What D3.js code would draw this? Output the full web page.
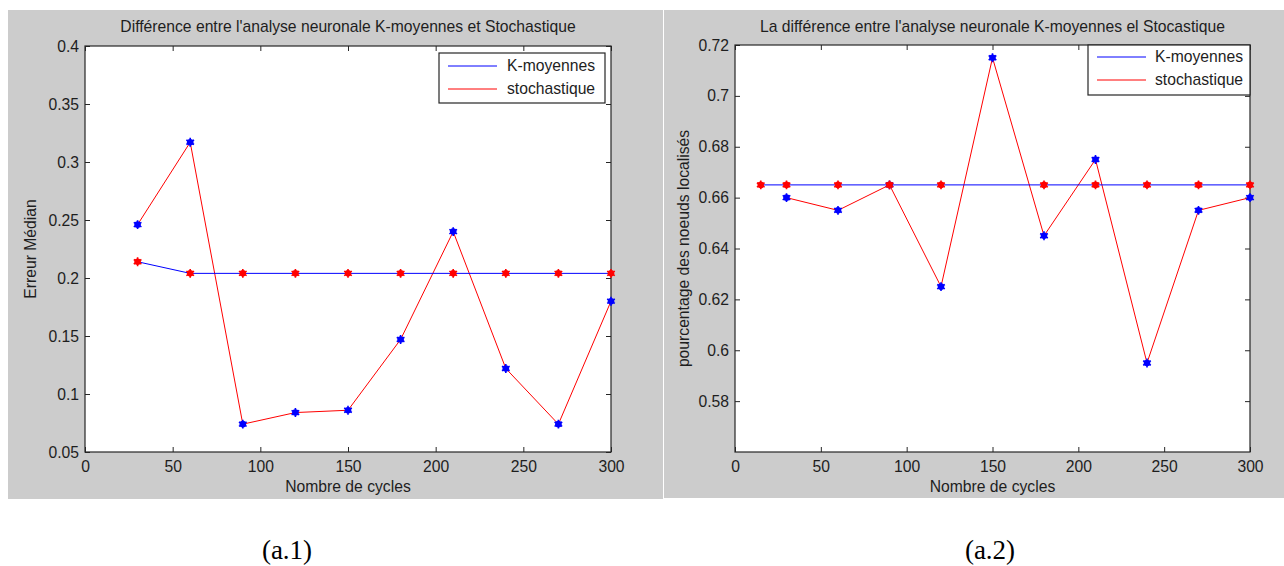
<!DOCTYPE html>
<html>
<head>
<meta charset="utf-8">
<script src="https://cdn.jsdelivr.net/npm/d3@7"></script>
<style>
  html, body { margin: 0; padding: 0; background: #ffffff; }
  svg { display: block; }
  text { font-family: "Liberation Sans", Arial, sans-serif; fill: #1e1e1e; }
</style>
</head>
<body>
<svg id="fig" width="1284" height="566"></svg>
<script>
// Nombre de cycles (x values)
const cyclesA = [30, 60, 90, 120, 150, 180, 210, 240, 270, 300];
const kmoyA   = [0.214, 0.204, 0.204, 0.204, 0.204, 0.204, 0.204, 0.204, 0.204, 0.204];
const stochA  = [0.246, 0.317, 0.074, 0.084, 0.086, 0.147, 0.240, 0.122, 0.074, 0.180];

const cyclesKB = [15, 30, 60, 90, 120, 180, 210, 240, 270, 300];
const kmoyB    = [0.665, 0.665, 0.665, 0.665, 0.665, 0.665, 0.665, 0.665, 0.665, 0.665];
const cyclesSB = [30, 60, 90, 120, 150, 180, 210, 240, 270, 300];
const stochB   = [0.660, 0.655, 0.665, 0.625, 0.715, 0.645, 0.675, 0.595, 0.655, 0.660];

const xTicks  = [0, 50, 100, 150, 200, 250, 300];
const yTicksA = [0.05, 0.1, 0.15, 0.2, 0.25, 0.3, 0.35, 0.4];
const yTicksB = [0.58, 0.6, 0.62, 0.64, 0.66, 0.68, 0.7, 0.72];

const seriesNames = ["K-moyennes", "stochastique"];
const captions = ["(a.1)", "(a.2)"];

const svg = d3.select("#fig");
const BLUE = "#0000ff", RED = "#ff0000";
const FS = 15.7;

function drawPanel(p) {
  const g = svg.append("g");
  // figure background
  g.append("rect").attr("x", p.bg[0]).attr("y", p.bg[1])
    .attr("width", p.bg[2]).attr("height", p.bg[3]).attr("fill", "#cccccc");

  const x = d3.scaleLinear().domain([0, 300]).range([p.plot.l, p.plot.r]);
  const y = d3.scaleLinear().domain(p.yDomain).range([p.plot.b, p.plot.t]);

  // axes area
  g.append("rect").attr("x", p.plot.l).attr("y", p.plot.t)
    .attr("width", p.plot.r - p.plot.l).attr("height", p.plot.b - p.plot.t)
    .attr("fill", "#ffffff");

  const fmt = d => String(+d.toFixed(2));
  const tk = 5;

  // bottom / top axes with inward ticks
  const xb = g.append("g").attr("transform", `translate(0,${p.plot.b})`)
    .call(d3.axisBottom(x).tickValues(xTicks).tickSize(-tk).tickPadding(9).tickFormat(d3.format("d")));
  const xt = g.append("g").attr("transform", `translate(0,${p.plot.t})`)
    .call(d3.axisTop(x).tickValues(xTicks).tickSize(-tk).tickFormat(""));
  const yl = g.append("g").attr("transform", `translate(${p.plot.l},0)`)
    .call(d3.axisLeft(y).tickValues(p.yTicks).tickSize(-tk).tickPadding(6).tickFormat(fmt));
  const yr = g.append("g").attr("transform", `translate(${p.plot.r},0)`)
    .call(d3.axisRight(y).tickValues(p.yTicks).tickSize(-tk).tickFormat(""));
  [xb, xt, yl, yr].forEach(a => {
    a.select(".domain").remove();
    a.selectAll("line").attr("stroke", "#262626");
    a.selectAll("text").attr("font-size", FS).attr("fill", "#1e1e1e")
      .attr("font-family", "'Liberation Sans', Arial, sans-serif");
  });

  // box
  g.append("rect").attr("x", p.plot.l).attr("y", p.plot.t)
    .attr("width", p.plot.r - p.plot.l).attr("height", p.plot.b - p.plot.t)
    .attr("fill", "none").attr("stroke", "#262626").attr("stroke-width", 1.2);

  const line = d3.line().x(d => x(d[0])).y(d => y(d[1]));
  const marker = (sel, pts, color) => {
    const m = sel.selectAll(null).data(pts).enter().append("g")
      .attr("transform", d => `translate(${x(d[0])},${y(d[1])})`);
    m.append("circle").attr("r", 3.3).attr("fill", color);
    m.append("path").attr("d", d3.symbol(d3.symbolAsterisk, 55)())
      .attr("stroke", color).attr("stroke-width", 1.6).attr("fill", "none");
  };

  const sPts = p.sx.map((v, i) => [v, p.sy[i]]);
  const kPts = p.kx.map((v, i) => [v, p.ky[i]]);

  // stochastique: red line, blue markers
  g.append("path").datum(sPts).attr("d", line).attr("fill", "none")
    .attr("stroke", RED).attr("stroke-width", 1);
  marker(g, sPts, BLUE);
  // K-moyennes: blue line, red markers
  g.append("path").datum(kPts).attr("d", line).attr("fill", "none")
    .attr("stroke", BLUE).attr("stroke-width", 1);
  marker(g, kPts, RED);

  // legend
  const L = p.legend;
  g.append("rect").attr("x", L.x).attr("y", L.y).attr("width", L.w).attr("height", L.h)
    .attr("fill", "#ffffff").attr("stroke", "#262626").attr("stroke-width", 1.2);
  [BLUE, RED].forEach((c, i) => {
    const yy = L.y + L.row0 + i * L.dy;
    g.append("line").attr("x1", L.x + L.l0).attr("x2", L.x + L.l1)
      .attr("y1", yy).attr("y2", yy).attr("stroke", c).attr("stroke-width", 1);
    g.append("text").attr("x", L.x + L.tx).attr("y", yy).attr("dy", "0.35em")
      .attr("font-size", FS).text(seriesNames[i]);
  });

  // title and axis labels
  const cx = (p.plot.l + p.plot.r) / 2;
  g.append("text").attr("x", cx).attr("y", 32).attr("text-anchor", "middle")
    .attr("font-size", FS).text(p.title);
  g.append("text").attr("x", cx).attr("y", 492).attr("text-anchor", "middle")
    .attr("font-size", FS).text("Nombre de cycles");
  g.append("text").attr("transform", `translate(${p.ylabX},${(p.plot.t + p.plot.b) / 2}) rotate(-90)`)
    .attr("text-anchor", "middle").attr("dy", "0.35em")
    .attr("font-size", FS).text(p.ylabel);

  // caption below the figure
  svg.append("text").attr("x", p.capX).attr("y", 559).attr("text-anchor", "middle")
    .style("font-family", "'Liberation Serif', 'Times New Roman', serif")
    .attr("font-size", 27).style("fill", "#000").text(p.caption);
}

drawPanel({
  bg: [8, 10, 655, 489],
  plot: { l: 85, r: 611, t: 46, b: 452 },
  yDomain: [0.05, 0.4], yTicks: yTicksA,
  kx: cyclesA, ky: kmoyA, sx: cyclesA, sy: stochA,
  legend: { x: 439, y: 53, w: 166, h: 50, row0: 13, dy: 23, l0: 9, l1: 58, tx: 68 },
  title: "Différence entre l'analyse neuronale K-moyennes et Stochastique",
  ylabel: "Erreur Médian", ylabX: 30,
  caption: captions[0], capX: 287
});

drawPanel({
  bg: [664, 10, 620, 488],
  plot: { l: 735, r: 1250, t: 45, b: 452 },
  yDomain: [0.56, 0.72], yTicks: yTicksB,
  kx: cyclesKB, ky: kmoyB, sx: cyclesSB, sy: stochB,
  legend: { x: 1088, y: 45, w: 162, h: 50, row0: 12, dy: 23, l0: 9, l1: 58, tx: 67 },
  title: "La différence entre l'analyse neuronale K-moyennes el Stocastique",
  ylabel: "pourcentage des noeuds localisés", ylabX: 683,
  caption: captions[1], capX: 990
});
</script>
</body>
</html>
